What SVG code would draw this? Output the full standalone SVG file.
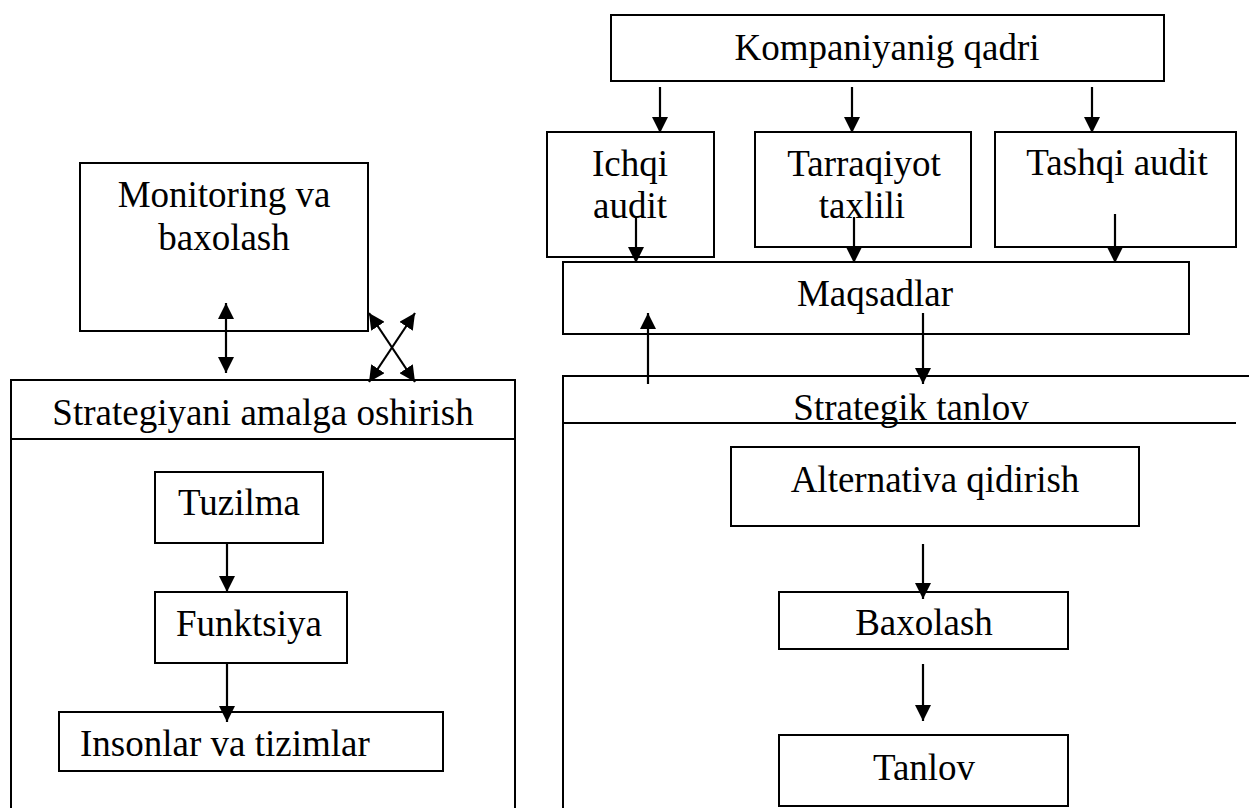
<svg xmlns="http://www.w3.org/2000/svg" width="1249" height="808" viewBox="0 0 1249 808">
<style>
  .box { fill: #fff; stroke: #000; stroke-width: 2; }
  .ln { fill: none; stroke: #000; stroke-width: 2; }
  .t { font-family: "Liberation Serif", "Times New Roman", serif; font-size: 37px; fill: #000; }
  .c { text-anchor: middle; }
  .arr { fill: none; stroke: #000; stroke-width: 2.2; marker-end: url(#ah); }
  .darr { fill: none; stroke: #000; stroke-width: 2.2; marker-end: url(#ah); marker-start: url(#ah); }
</style>
<defs>
  <marker id="ah" markerUnits="userSpaceOnUse" markerWidth="16" markerHeight="16" viewBox="0 0 15 15" refX="15" refY="7.5" orient="auto-start-reverse">
    <path d="M0,0 L15,7.5 L0,15 z" fill="#000"/>
  </marker>
</defs>
<rect width="1249" height="808" fill="#fff"/>

<g id="monitoring">
  <rect class="box" x="80" y="163" width="288" height="168"/>
  <text class="t c" x="224" y="207">Monitoring va</text>
  <text class="t c" x="224" y="250">baxolash</text>
</g>

<g id="strategiyani">
  <path class="ln" d="M11,812 V380 H515 V812"/>
  <path class="ln" d="M11,439 H515"/>
  <text class="t c" x="263" y="425">Strategiyani amalga oshirish</text>
</g>

<g id="tuzilma">
  <rect class="box" x="155" y="472" width="168" height="71"/>
  <text class="t c" x="239" y="515">Tuzilma</text>
</g>
<g id="funktsiya">
  <rect class="box" x="155" y="592" width="192" height="71"/>
  <text class="t c" x="249" y="636">Funktsiya</text>
</g>
<g id="insonlar">
  <rect class="box" x="59" y="712" width="384" height="59"/>
  <text class="t" x="80" y="756">Insonlar va tizimlar</text>
</g>

<g id="kompaniyanig">
  <rect class="box" x="611" y="15" width="553" height="66"/>
  <text class="t c" x="887" y="60">Kompaniyanig qadri</text>
</g>
<g id="ichqi">
  <rect class="box" x="547" y="132" width="167" height="125"/>
  <text class="t c" x="630" y="176">Ichqi</text>
  <text class="t c" x="630" y="218">audit</text>
</g>
<g id="tarraqiyot">
  <rect class="box" x="755" y="132" width="216" height="115"/>
  <text class="t c" x="864" y="176">Tarraqiyot</text>
  <text class="t c" x="862" y="218">taxlili</text>
</g>
<g id="tashqi">
  <rect class="box" x="995" y="132" width="241" height="115"/>
  <text class="t c" x="1117" y="175">Tashqi audit</text>
</g>
<g id="maqsadlar">
  <rect class="box" x="563" y="262" width="626" height="72"/>
  <text class="t c" x="875" y="306">Maqsadlar</text>
</g>

<g id="strategik">
  <path class="ln" d="M1251,376 H563 V812"/>
  <path class="ln" d="M563,423 H1236"/>
  <text class="t c" x="911" y="420">Strategik tanlov</text>
</g>
<g id="alternativa">
  <rect class="box" x="731" y="447" width="408" height="79"/>
  <text class="t c" x="935" y="492">Alternativa qidirish</text>
</g>
<g id="baxolash">
  <rect class="box" x="779" y="592" width="289" height="57"/>
  <text class="t c" x="924" y="635">Baxolash</text>
</g>
<g id="tanlov">
  <rect class="box" x="779" y="735" width="289" height="71"/>
  <text class="t c" x="924" y="780">Tanlov</text>
</g>

<g id="connectors">
  <line class="darr" x1="226" y1="303" x2="226" y2="373"/>
  <line class="darr" x1="369" y1="313" x2="415" y2="382"/>
  <line class="darr" x1="415" y1="313" x2="369" y2="382"/>
  <line class="arr" x1="227" y1="543" x2="227" y2="592"/>
  <line class="arr" x1="227" y1="663" x2="227" y2="722"/>
  <line class="arr" x1="660" y1="87" x2="660" y2="133"/>
  <line class="arr" x1="852" y1="87" x2="852" y2="133"/>
  <line class="arr" x1="1092" y1="87" x2="1092" y2="133"/>
  <line class="arr" x1="636" y1="217" x2="636" y2="263"/>
  <line class="arr" x1="854" y1="217" x2="854" y2="263"/>
  <line class="arr" x1="1115" y1="214" x2="1115" y2="263"/>
  <line class="arr" x1="648" y1="384" x2="648" y2="313"/>
  <line class="arr" x1="923" y1="313" x2="923" y2="384"/>
  <line class="arr" x1="923" y1="544" x2="923" y2="599"/>
  <line class="arr" x1="923" y1="664" x2="923" y2="721"/>
</g>
</svg>
